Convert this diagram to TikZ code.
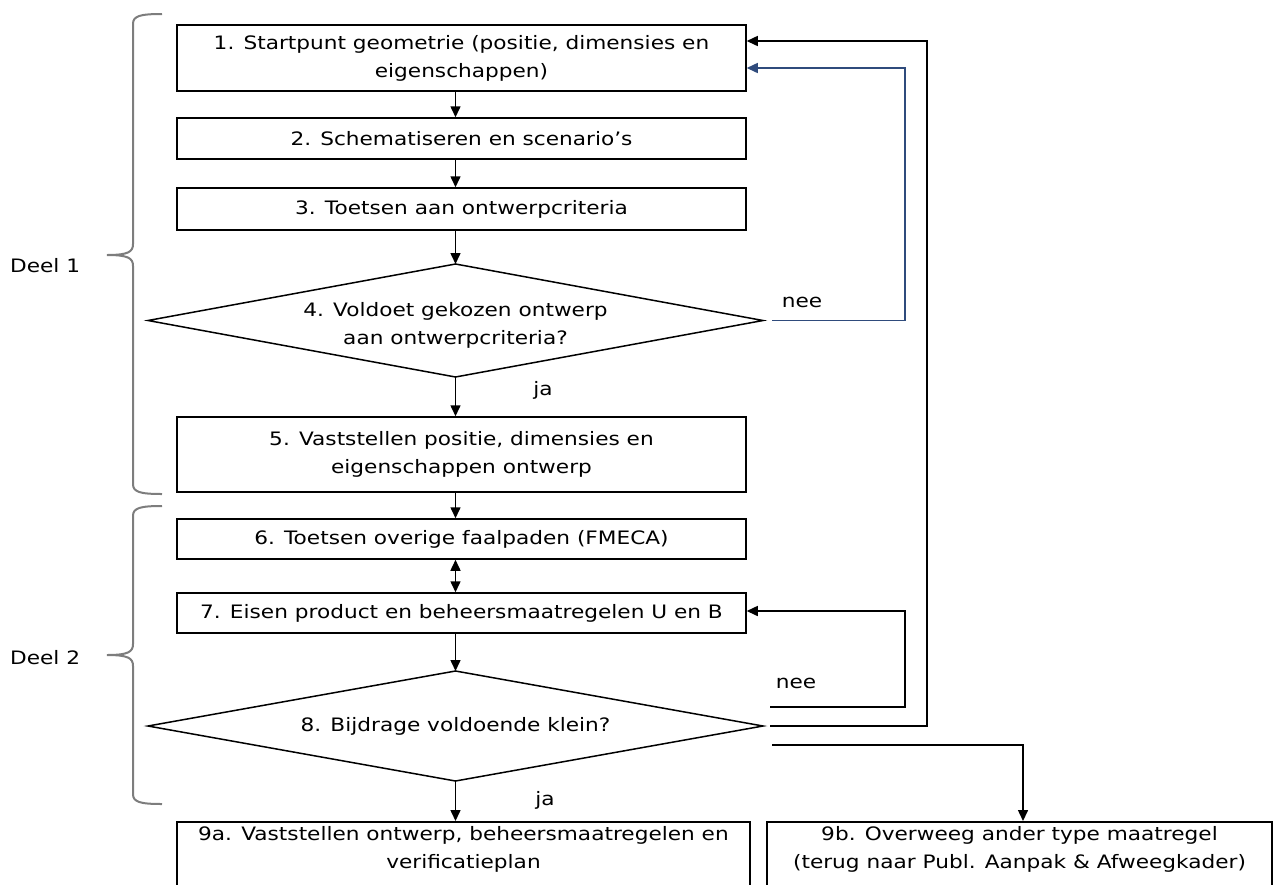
\documentclass[tikz,border=0pt]{standalone}
\usepackage{fontspec}
\setmainfont{DejaVu Sans}[FakeStretch=1.17]
\usetikzlibrary{shapes.geometric,arrows.meta,calc}
\definecolor{loopblue}{RGB}{47,75,124}
\definecolor{bracegrey}{RGB}{125,125,125}
\begin{document}
\begin{tikzpicture}[x=1pt,y=-1pt,
  every node/.style={font=\fontsize{18.5}{28}\selectfont},
  stepbox/.style={draw, line width=1.5pt, align=center, inner sep=0pt, minimum width=569pt},
  dtext/.style={align=center, inner sep=0pt},
  dline/.style={line width=1.5pt},
  flow/.style={line width=1.5pt, -{Triangle[length=11pt,width=10pt]}},
  brace/.style={line width=2pt, bracegrey},
  lbl/.style={inner sep=0pt}
]
\useasboundingbox (0,0) rectangle (1274,884);
\clip (0,0) rectangle (1274,884);

\node[stepbox, minimum height=66pt] (b1) at (461.5,58) {1. Startpunt geometrie (positie, dimensies en\\eigenschappen)};
\node[stepbox, minimum height=41pt] (b2) at (461.5,138.5) {2. Schematiseren en scenario’s};
\node[stepbox, minimum height=42pt] (b3) at (461.5,209) {3. Toetsen aan ontwerpcriteria};

% decision 4
\coordinate (d4n) at (455.5,264);
\coordinate (d4s) at (455.5,377);
\coordinate (d4w) at (148,320.5);
\coordinate (d4e) at (763,320.5);
\draw[dline] (d4n) -- (d4e) -- (d4s) -- (d4w) -- cycle;
\node[dtext] (d4) at (455.5,325) {4. Voldoet gekozen ontwerp\\aan ontwerpcriteria?};

\node[stepbox, minimum height=75pt] (b5) at (461.5,454.5) {5. Vaststellen positie, dimensies en\\eigenschappen ontwerp};
\node[stepbox, minimum height=40pt] (b6) at (461.5,539) {6. Toetsen overige faalpaden (FMECA)};
\node[stepbox, minimum height=40pt] (b7) at (461.5,613) {7. Eisen product en beheersmaatregelen U en B};

% decision 8
\coordinate (d8n) at (455.5,671);
\coordinate (d8s) at (455.5,781);
\coordinate (d8w) at (148,726);
\coordinate (d8e) at (763,726);
\draw[dline] (d8n) -- (d8e) -- (d8s) -- (d8w) -- cycle;
\node[dtext] (d8) at (455.5,726) {8. Bijdrage voldoende klein?};

\node[stepbox, minimum width=573pt, anchor=north, inner ysep=5pt, text depth=60pt] (b9a) at (463.5,821) {9a. Vaststellen ontwerp, beheersmaatregelen en\\verificatieplan};
\node[stepbox, minimum width=505pt, anchor=north, inner ysep=5pt, text depth=60pt] (b9b) at (1019.5,821) {9b. Overweeg ander type maatregel\\(terug naar Publ. Aanpak \& Afweegkader)};

% labels
\node[lbl, anchor=west] (deel1) at (10,266) {Deel 1};
\node[lbl, anchor=west] (deel2) at (10,658) {Deel 2};
\node[lbl] (ja1) at (543,390) {ja};
\node[lbl] (ja2) at (545,800) {ja};
\node[lbl] (nee1) at (802,302) {nee};
\node[lbl] (nee2) at (796,683) {nee};

% loop start points
\coordinate (c4r) at ($(d4e)+(9,0)$);
\coordinate (c8a) at ($(d8e)+(7,-19)$);
\coordinate (c8b) at ($(d8e)+(7,0)$);
\coordinate (c8c) at ($(d8e)+(9,19)$);

% main flow
\draw[flow] (b1.south -| d4n) -- (b2.north -| d4n);
\draw[flow] (b2.south -| d4n) -- (b3.north -| d4n);
\draw[flow] (b3.south -| d4n) -- (d4n);
\draw[flow] (d4s) -- (b5.north -| d4s);
\draw[flow] (b5.south -| d4s) -- (b6.north -| d4s);
\draw[line width=1.5pt, {Triangle[length=11pt,width=10pt]}-{Triangle[length=11pt,width=10pt]}] (b6.south -| d4s) -- (b7.north -| d4s);
\draw[flow] (b7.south -| d8n) -- (d8n);
\draw[flow] (d8s) -- (b9a.north -| d8s);

% loops
\draw[flow, loopblue] (c4r) -- (905,320.5) -- (905,68) -- (b1.east |- 0,68);
\draw[flow] (c8a) -- (905,707) -- (905,611) -- (b7.east |- 0,611);
\draw[flow] (c8b) -- (927,726) -- (927,41) -- (b1.east |- 0,41);
\draw[flow] (c8c) -- (1023,745) -- (b9b.north -| 1023,0);

% braces
\draw[brace] (162,14) .. controls (140,14) and (133,16) .. (133,24) -- (133,244)
  .. controls (133,252) and (128,255) .. (107,255)
  .. controls (128,255) and (133,258) .. (133,266) -- (133,484)
  .. controls (133,492) and (140,494) .. (162,494);
\draw[brace] (162,506) .. controls (140,506) and (133,508) .. (133,516) -- (133,644)
  .. controls (133,652) and (128,655) .. (107,655)
  .. controls (128,655) and (133,658) .. (133,666) -- (133,794)
  .. controls (133,802) and (140,804) .. (162,804);
\end{tikzpicture}
\end{document}
